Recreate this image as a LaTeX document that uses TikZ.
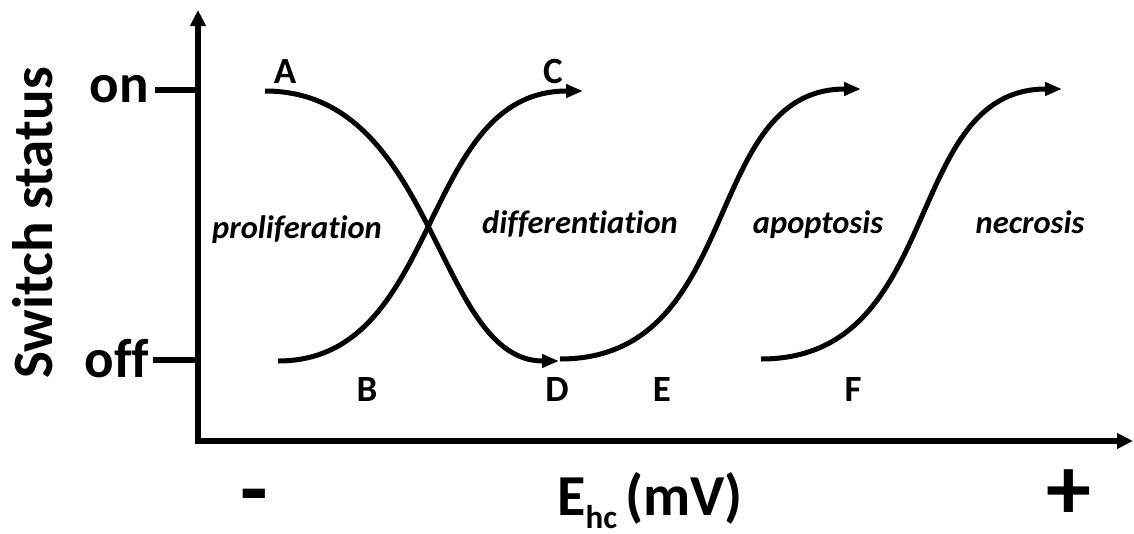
\documentclass[tikz,border=0pt]{standalone}
\usepackage{fontspec}
\setmainfont{Carlito}[Ligatures=NoCommon]
\usetikzlibrary{arrows.meta}
\begin{document}
\begin{tikzpicture}[x=1pt,y=-1pt,
  axisline/.style={line width=5.5pt},
  curveline/.style={line width=5pt},
  tip/.style={-{Triangle[length=17pt,width=13pt]}},
  lbl/.style={font=\fontsize{37}{37}\selectfont\bfseries, anchor=base, inner sep=0pt},
  phase/.style={font=\fontsize{32.5}{32.5}\selectfont\bfseries\itshape, anchor=base, inner sep=0pt},
  stat/.style={font=\fontsize{55}{55}\selectfont\bfseries, anchor=base east, inner sep=0pt},
  sign/.style={font=\fontsize{90}{90}\selectfont\bfseries, anchor=base, inner sep=0pt, text depth=0pt, text height=50pt}]
\useasboundingbox (0,0) rectangle (1134,533);
% axes
\coordinate (ytop) at (198,10);
\coordinate (xend) at (1133,441);
\draw[axisline, -{Triangle[length=16pt,width=15pt]}] (198,443.75) -- (ytop);
\draw[axisline, -{Triangle[length=16pt,width=15pt]}] (195.25,441) -- (xend);
% ticks
\coordinate (onL) at (155,90);
\coordinate (onR) at (198,90);
\coordinate (offL) at (153,360);
\coordinate (offR) at (198,360);
\draw[axisline] (onL) -- (onR);
\draw[axisline] (offL) -- (offR);
\node[stat] (on) at (149,102) {on};
\node[stat] (off) at (149,377) {off};
\node[font=\fontsize{57}{57}\selectfont\bfseries, rotate=90, anchor=base, inner sep=0pt] (ylab) at (52,223) {Switch status};
% curves
\coordinate (a) at (265,91);
\coordinate (d) at (559,361);
\coordinate (b) at (278,361);
\coordinate (c) at (583,91);
\coordinate (e) at (560,359);
\coordinate (e2) at (861,89);
\coordinate (f) at (761,359);
\coordinate (f2) at (1062,89);
\draw[curveline, tip] (a) .. controls (437,91) and (435,361) .. (d);
\draw[curveline, tip] (b) .. controls (443,361) and (418,91) .. (c);
\draw[curveline, tip] (e) .. controls (745,359) and (700,89) .. (e2);
\draw[curveline, tip] (f) .. controls (946,359) and (901,89) .. (f2);
% letter labels
\node[lbl] (A) at (285,83) {A};
\node[lbl] (C) at (553,83) {C};
\node[lbl] (B) at (367,401) {B};
\node[lbl] (D) at (557,401) {D};
\node[lbl] (E) at (662,401) {E};
\node[lbl] (F) at (853,401) {F};
% phases
\node[phase] (p1) at (297,238) {proliferation};
\node[phase] (p2) at (580,233) {differentiation};
\node[phase] (p3) at (818,233) {apoptosis};
\node[phase] (p4) at (1030,233) {necrosis};
% x labels
\node[font=\fontsize{58}{58}\selectfont\bfseries, anchor=base, inner sep=0pt] (xlab) at (650,515) {E\raisebox{-13pt}{\fontsize{33}{33}\selectfont hc}\hspace{8pt}(mV)};
\node[sign] (minus) at (254,519) {-};
\node[sign] (plus) at (1069,519) {+};
\end{tikzpicture}
\end{document}
